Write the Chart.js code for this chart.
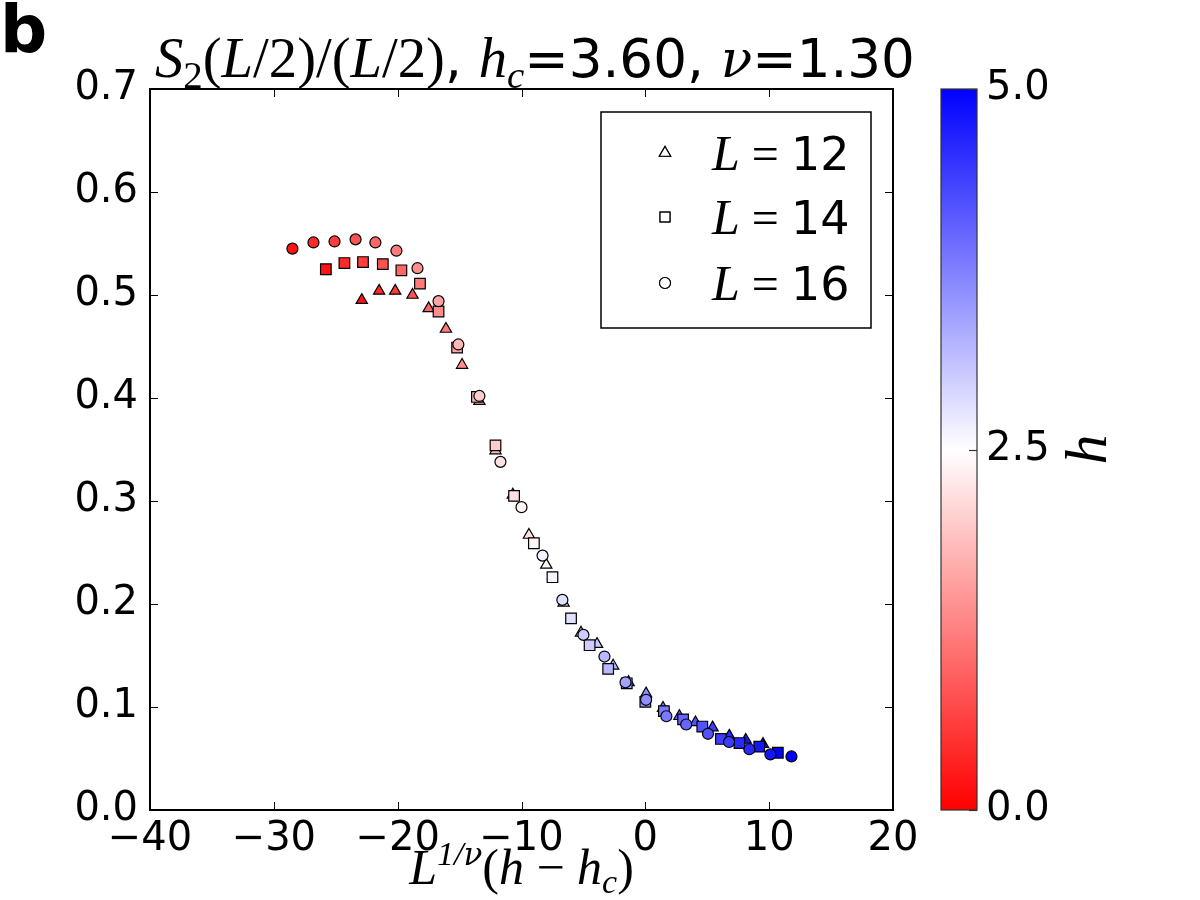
<!DOCTYPE html>
<html>
<head>
<meta charset="utf-8">
<script src="https://cdn.jsdelivr.net/npm/chart.js@4.4.1/dist/chart.umd.min.js"></script>
<style>
  body { margin: 0; background: #fff; }
  #wrap { width: 1200px; height: 900px; }
</style>
</head>
<body>
<div id="wrap"><canvas id="scaling" width="1200" height="900"></canvas></div>
<script>
// h values of the field (same for every L), shown as colour
const hValues = [0.2, 0.4, 0.6, 0.8, 1.0, 1.2, 1.4, 1.6, 1.8, 2.0, 2.2, 2.4, 2.6,
                 2.8, 3.0, 3.2, 3.4, 3.6, 3.8, 4.0, 4.2, 4.4, 4.6, 4.8, 5.0];

// L = 12 (triangles)
const xL12 = [-22.9, -21.5, -20.2, -18.8, -17.5, -16.1, -14.8, -13.4, -12.1, -10.7, -9.4, -8.0, -6.6,
              -5.2, -3.9, -2.6, -1.35, 0.06, 1.43, 2.75, 4.05, 5.43, 6.78, 8.11, 9.5];
const yL12 = [0.495, 0.504, 0.504, 0.500, 0.487, 0.467, 0.432, 0.397, 0.349, 0.306, 0.267, 0.238, 0.201,
              0.172, 0.161, 0.140, 0.124, 0.113, 0.099, 0.091, 0.085, 0.080, 0.072, 0.068, 0.064];

// L = 14 (squares)
const xL14 = [-25.8, -24.3, -22.8, -21.2, -19.7, -18.2, -16.7, -15.2, -13.6, -12.1, -10.6, -9.0, -7.5,
              -6.0, -4.5, -3.0, -1.5, 0.0, 1.5, 3.05, 4.6, 6.1, 7.6, 9.2, 10.7];
const yL14 = [0.525, 0.531, 0.532, 0.530, 0.524, 0.511, 0.484, 0.449, 0.401, 0.354, 0.305, 0.259, 0.226,
              0.186, 0.160, 0.137, 0.123, 0.105, 0.096, 0.088, 0.081, 0.069, 0.065, 0.0615, 0.0556];

// L = 16 (circles)
const xL16 = [-28.5, -26.8, -25.1, -23.4, -21.8, -20.1, -18.4, -16.7, -15.1, -13.4, -11.7, -10.0, -8.3,
              -6.7, -5.0, -3.3, -1.6, 0.06, 1.7, 3.3, 5.06, 6.76, 8.4, 10.1, 11.8];
const yL16 = [0.545, 0.551, 0.552, 0.554, 0.551, 0.543, 0.526, 0.494, 0.452, 0.402, 0.338, 0.294, 0.247,
              0.204, 0.170, 0.149, 0.124, 0.107, 0.091, 0.083, 0.074, 0.066, 0.059, 0.054, 0.052];

const xTicks = [-40, -30, -20, -10, 0, 10, 20];
const yTicks = [0.0, 0.1, 0.2, 0.3, 0.4, 0.5, 0.6, 0.7];
const hMin = 0, hMax = 5;
const cbTicks = [0.0, 2.5, 5.0];

// bwr reversed: 0 -> red, 2.5 -> white, 5 -> blue
function hColor(h){
    const t = (h - hMin) / (hMax - hMin);
    let r, g, b;
    if (t < 0.5) { r = 255; g = b = Math.round(510 * t); }
    else { b = 255; r = g = Math.round(510 * (1 - t)); }
    return 'rgb(' + r + ',' + g + ',' + b + ')';
}

function pts(xs, ys){ return xs.map((x, i) => ({x: x, y: ys[i]})); }

const SERIF = '"Liberation Serif", "DejaVu Serif", serif';
const GREEK = '"DejaVu Serif", serif';
const SANS = '"DejaVu Sans", sans-serif';

// text pieces are [text, style, size, font, dy]
function pf(p, k){ return p[1] + ' ' + (p[2] * k) + 'px ' + p[3]; }
function runWidth(ctx, parts, k){
    let w = 0;
    parts.forEach(p => { ctx.font = pf(p, k); w += ctx.measureText(p[0]).width; });
    return w;
}
function drawRun(ctx, parts, x, y, k){
    parts.forEach(p => {
        ctx.font = pf(p, k);
        ctx.fillText(p[0], x, y + (p[4] || 0) * k);
        x += ctx.measureText(p[0]).width;
    });
}

const decor = {
    id: 'decor',
    afterDraw(chart){
        const ctx = chart.ctx, a = chart.chartArea;
        const xs = chart.scales.x, ys = chart.scales.y;
        ctx.save();
        ctx.fillStyle = '#000';
        ctx.strokeStyle = '#000';
        ctx.textBaseline = 'alphabetic';
        ctx.textAlign = 'left';

        // inside ticks on all four sides
        ctx.lineWidth = 1;
        ctx.beginPath();
        xTicks.forEach(v => {
            const px = Math.round(xs.getPixelForValue(v)) + 0.5;
            ctx.moveTo(px, a.bottom); ctx.lineTo(px, a.bottom - 8);
            ctx.moveTo(px, a.top); ctx.lineTo(px, a.top + 8);
        });
        yTicks.forEach(v => {
            const py = Math.round(ys.getPixelForValue(v)) + 0.5;
            ctx.moveTo(a.left, py); ctx.lineTo(a.left + 8, py);
            ctx.moveTo(a.right, py); ctx.lineTo(a.right - 8, py);
        });
        ctx.stroke();

        // frame
        ctx.lineWidth = 2;
        ctx.strokeRect(a.left, a.top, a.right - a.left, a.bottom - a.top);

        // panel letter
        ctx.font = 'bold 66px ' + SANS;
        ctx.fillText('b', 0, 52);

        // title, fitted to the width it takes in the figure
        const title = [
            ['S', 'italic', 48, SERIF], ['2', 'normal', 33, SERIF, 9], ['(', 'normal', 48, SERIF],
            ['L', 'italic', 48, SERIF], ['/2)/(', 'normal', 48, SERIF], ['L', 'italic', 48, SERIF],
            ['/2)', 'normal', 48, SERIF], [', ', 'normal', 45, SANS], ['h', 'italic', 48, SERIF],
            ['c', 'italic', 33, SERIF, 9], ['=3.60, ', 'normal', 45, SANS], ['\u03bd', 'italic', 44, GREEK],
            ['=1.30', 'normal', 45, SANS]
        ];
        const k = 760 / runWidth(ctx, title, 1);
        drawRun(ctx, title, 535 - 380, 77, k);

        // x axis label
        const xl = [
            ['L', 'italic', 50, SERIF], ['1/', 'italic', 34, SERIF, -19], ['\u03bd', 'italic', 31, GREEK, -19],
            ['(', 'normal', 50, SERIF], ['h', 'italic', 50, SERIF], [' \u2212 ', 'normal', 50, SERIF],
            ['h', 'italic', 50, SERIF], ['c', 'italic', 34, SERIF, 9], [')', 'normal', 50, SERIF]
        ];
        const xw = runWidth(ctx, xl, 1);
        drawRun(ctx, xl, (a.left + a.right) / 2 - xw / 2, 884, 1);

        // legend
        ctx.lineWidth = 1.5;
        ctx.strokeRect(601, 112, 270, 216);
        const legRows = [['12', 'triangle', 153], ['14', 'rect', 217], ['16', 'circle', 283]];
        legRows.forEach(r => {
            ctx.fillStyle = '#fff';
            ctx.lineWidth = 1.2;
            const rad = r[1] === 'rect' ? 7 : (r[1] === 'triangle' ? 6.5 : 5.5);
            Chart.helpers.drawPoint(ctx, {pointStyle: r[1], radius: rad, borderWidth: 1.2}, 665, r[2]);
            ctx.fill(); ctx.stroke();
            ctx.fillStyle = '#000';
            drawRun(ctx, [['L', 'italic', 50, SERIF], [' = ', 'normal', 48, SERIF], [r[0], 'normal', 46, SANS]],
                    712, r[2] + 17, 1);
        });

        // colorbar
        const cbL = 941, cbR = 977, cbT = a.top, cbB = a.bottom;
        const grad = ctx.createLinearGradient(0, cbB, 0, cbT);
        grad.addColorStop(0, hColor(0));
        grad.addColorStop(0.5, hColor(2.5));
        grad.addColorStop(1, hColor(5));
        ctx.fillStyle = grad;
        ctx.fillRect(cbL, cbT, cbR - cbL, cbB - cbT);
        ctx.lineWidth = 1.2;
        ctx.strokeStyle = '#333';
        ctx.strokeRect(cbL, cbT, cbR - cbL, cbB - cbT);
        ctx.fillStyle = '#000';
        ctx.font = '40px ' + SANS;
        ctx.textBaseline = 'middle';
        cbTicks.forEach(v => {
            const py = cbB - (v - hMin) / (hMax - hMin) * (cbB - cbT);
            ctx.beginPath();
            ctx.moveTo(cbR - 8, Math.round(py) + 0.5); ctx.lineTo(cbR, Math.round(py) + 0.5);
            ctx.stroke();
            ctx.fillText(v.toFixed(1), 986, py);
        });
        ctx.save();
        ctx.translate(1106, (cbT + cbB) / 2);
        ctx.rotate(-Math.PI / 2);
        ctx.textAlign = 'center';
        ctx.textBaseline = 'alphabetic';
        ctx.font = 'italic 60px ' + SERIF;
        ctx.fillText('h', 0, 0);
        ctx.restore();

        ctx.restore();
    }
};

const config = {
    type: 'scatter',
    data: {
        datasets: [
            {label: 'L=12', data: pts(xL12, yL12), pointStyle: 'triangle', pointRadius: 6.5,
             pointBackgroundColor: hValues.map(hColor), pointBorderColor: '#000', pointBorderWidth: 1.2, order: 3},
            {label: 'L=14', data: pts(xL14, yL14), pointStyle: 'rect', pointRadius: 7.5,
             pointBackgroundColor: hValues.map(hColor), pointBorderColor: '#000', pointBorderWidth: 1.2, order: 2},
            {label: 'L=16', data: pts(xL16, yL16), pointStyle: 'circle', pointRadius: 5.5,
             pointBackgroundColor: hValues.map(hColor), pointBorderColor: '#000', pointBorderWidth: 1.2, order: 1}
        ]
    },
    options: {
        responsive: false,
        animation: false,
        layout: {padding: {top: 89, right: 307, left: 0, bottom: 0}},
        plugins: {legend: {display: false}, title: {display: false}, tooltip: {enabled: false}},
        scales: {
            x: {
                type: 'linear', min: -40, max: 20,
                grid: {display: false, drawTicks: false},
                border: {display: false},
                afterFit: s => { s.height = 90; },
                ticks: {
                    stepSize: 10, padding: 6, color: '#000',
                    font: {family: 'DejaVu Sans', size: 40},
                    callback: v => String(v).replace('-', '\u2212')
                }
            },
            y: {
                type: 'linear', min: 0, max: 0.7,
                grid: {display: false, drawTicks: false},
                border: {display: false},
                afterFit: s => { s.width = 150; },
                ticks: {
                    stepSize: 0.1, padding: 12, color: '#000',
                    font: {family: 'DejaVu Sans', size: 40},
                    callback: v => v.toFixed(1)
                }
            }
        }
    },
    plugins: [decor]
};

new Chart(document.getElementById('scaling'), config);
</script>
</body>
</html>
